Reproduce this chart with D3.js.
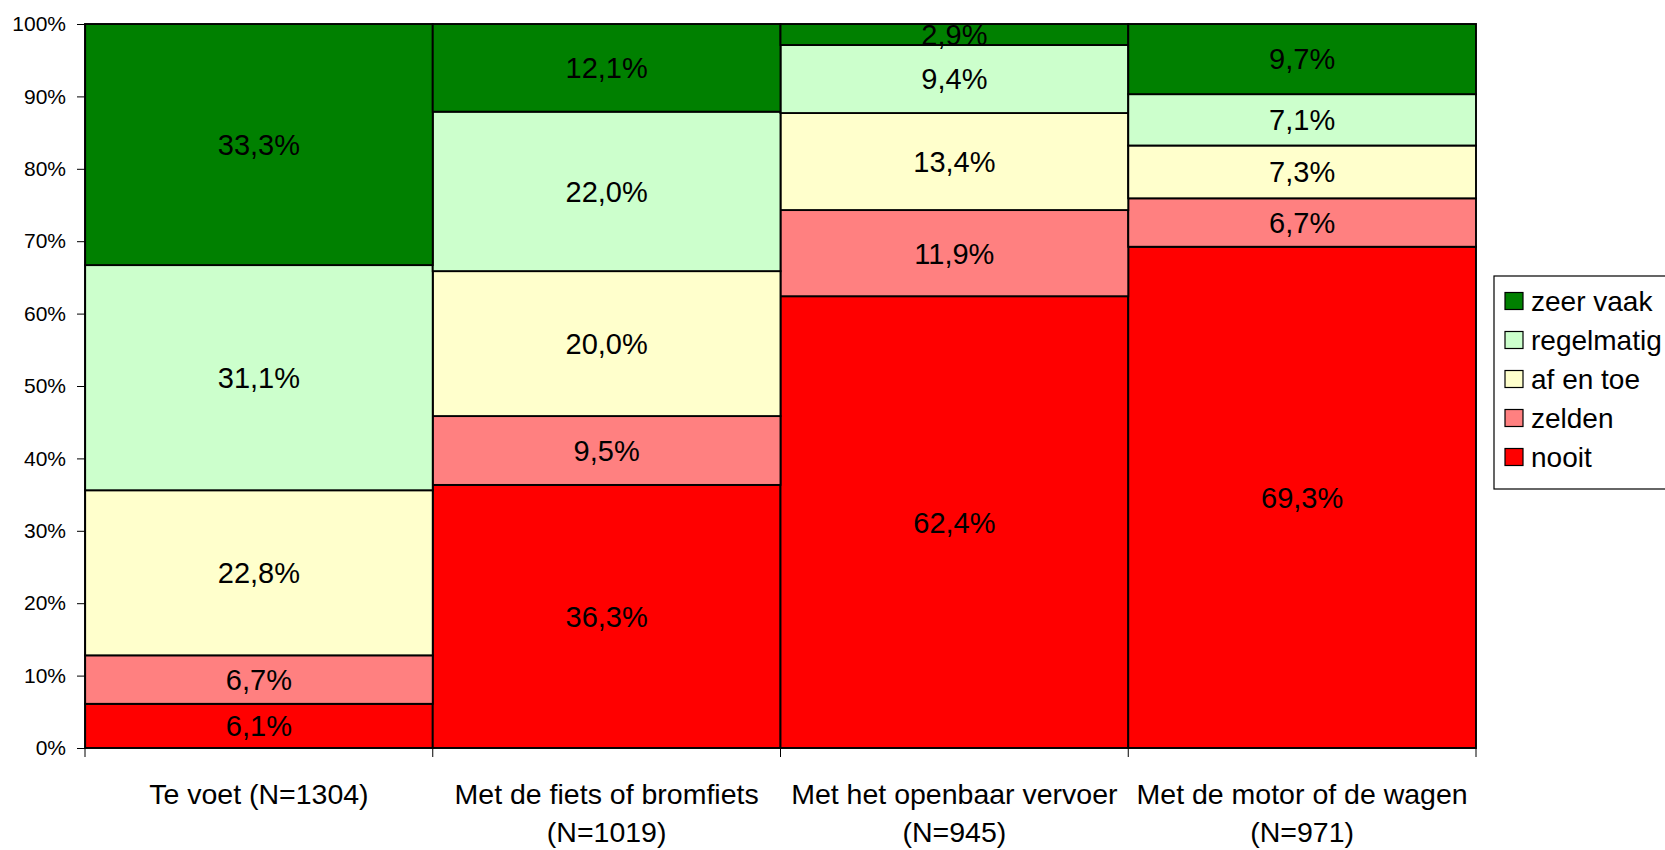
<!DOCTYPE html>
<html>
<head>
<meta charset="utf-8">
<script src="https://cdn.jsdelivr.net/npm/d3@7"></script>
<style>
  html, body { margin: 0; padding: 0; background: #fff; }
  svg { display: block; font-family: "Liberation Sans", Arial, sans-serif; }
</style>
</head>
<body>
<svg id="chart" width="1665" height="850"></svg>
<script>
// ---- data ----
const categories = ["Te voet (N=1304)", "Met de fiets of bromfiets (N=1019)", "Met het openbaar vervoer (N=945)", "Met de motor of de wagen (N=971)"];
const categoryLines = [["Te voet (N=1304)"], ["Met de fiets of bromfiets", "(N=1019)"], ["Met het openbaar vervoer", "(N=945)"], ["Met de motor of de wagen", "(N=971)"]];
const seriesNames = ["nooit", "zelden", "af en toe", "regelmatig", "zeer vaak"];
const nooit      = [6.1, 36.3, 62.4, 69.3];
const zelden     = [6.7, 9.5, 11.9, 6.7];
const afEnToe    = [22.8, 20.0, 13.4, 7.3];
const regelmatig = [31.1, 22.0, 9.4, 7.1];
const zeerVaak   = [33.3, 12.1, 2.9, 9.7];
const yTicks = [0, 0.1, 0.2, 0.3, 0.4, 0.5, 0.6, 0.7, 0.8, 0.9, 1.0];
const colors = ["#FF0000", "#FF8080", "#FFFFCC", "#CCFFCC", "#008000"];

// ---- build table ----
const seriesValues = [nooit, zelden, afEnToe, regelmatig, zeerVaak];
const table = categories.map((c, i) => {
  const row = { cat: c, idx: i };
  seriesNames.forEach((s, j) => row[s] = seriesValues[j][i]);
  return row;
});

const svg = d3.select("#chart");
const mLeft = 85, mRight = 1476, mTop = 24, mBottom = 748;

const x = d3.scaleBand().domain(categories).range([mLeft, mRight]).padding(0);
const y = d3.scaleLinear().domain([0, 1]).range([mBottom, mTop]);
const color = d3.scaleOrdinal().domain(seriesNames).range(colors);

const stack = d3.stack().keys(seriesNames).offset(d3.stackOffsetExpand);
const stacked = stack(table);

const g = svg.append("g");
stacked.forEach(layer => {
  g.selectAll(null).data(layer).enter().append("rect")
    .attr("x", d => x(d.data.cat))
    .attr("width", x.bandwidth())
    .attr("y", d => y(d[1]))
    .attr("height", d => y(d[0]) - y(d[1]))
    .attr("fill", color(layer.key))
    .attr("stroke", "#000")
    .attr("stroke-width", 1.9);
});

// data labels
stacked.forEach(layer => {
  g.selectAll(null).data(layer).enter().append("text")
    .attr("x", d => x(d.data.cat) + x.bandwidth() / 2)
    .attr("y", d => (y(d[0]) + y(d[1])) / 2 + 10.4)
    .attr("text-anchor", "middle")
    .attr("font-size", 29)
    .attr("fill", "#000")
    .text(d => d3.format(".1f")(d.data[layer.key]).replace(".", ",") + "%");
});

// y axis
const yAxis = d3.axisLeft(y).tickValues(yTicks).tickFormat(d3.format(".0%")).tickSize(8).tickPadding(11);
const ya = svg.append("g").attr("transform", `translate(${mLeft},0)`).call(yAxis);
ya.selectAll("text").attr("font-size", 21).attr("font-family", "Liberation Sans, Arial, sans-serif").attr("fill", "#000");
ya.selectAll("line").attr("stroke", "#000");
ya.select(".domain").attr("stroke", "#000").attr("stroke-width", 1.2);

// x axis
const xa = svg.append("g").attr("transform", `translate(0,${mBottom})`);
xa.append("line").attr("x1", mLeft).attr("x2", mRight).attr("stroke", "#000").attr("stroke-width", 1.2);
const bounds = categories.map(c => x(c)).concat([x(categories[categories.length - 1]) + x.bandwidth()]);
xa.selectAll(null).data(bounds).enter().append("line")
  .attr("x1", d => d).attr("x2", d => d).attr("y1", 0).attr("y2", 9)
  .attr("stroke", "#000");
categories.forEach((c, i) => {
  const t = xa.append("text")
    .attr("text-anchor", "middle")
    .attr("font-size", 28.5)
    .attr("fill", "#000");
  categoryLines[i].forEach((line, k) => {
    t.append("tspan").attr("x", x(c) + x.bandwidth() / 2).attr("y", 56 + k * 38).text(line);
  });
});

// legend
const legend = svg.append("g");
legend.append("rect").attr("x", 1494).attr("y", 276).attr("width", 200).attr("height", 213)
  .attr("fill", "#fff").attr("stroke", "#000").attr("stroke-width", 1.2);
const legendOrder = seriesNames.slice().reverse();
legendOrder.forEach((s, i) => {
  const cy = 301 + i * 39;
  legend.append("rect").attr("x", 1505).attr("y", cy - 8.5).attr("width", 18).attr("height", 17)
    .attr("fill", color(s)).attr("stroke", "#000").attr("stroke-width", 1.2);
  legend.append("text").attr("x", 1531).attr("y", cy + 10).attr("font-size", 28).attr("fill", "#000").text(s);
});
</script>
</body>
</html>
